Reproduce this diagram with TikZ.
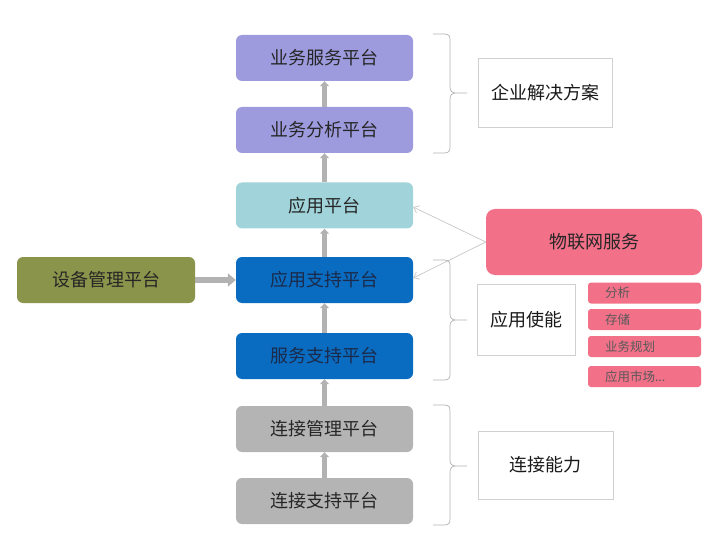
\documentclass[tikz,border=0pt]{standalone}
\usepackage{fontspec}
\setmainfont{Noto Sans CJK SC}
\usetikzlibrary{arrows.meta}
\definecolor{purp}{RGB}{157,155,222}
\definecolor{teal}{RGB}{160,212,218}
\definecolor{bluec}{RGB}{10,108,192}
\definecolor{grayc}{RGB}{180,180,180}
\definecolor{olive}{RGB}{138,148,74}
\definecolor{pinkc}{RGB}{242,113,137}
\tikzset{%
	plat/.style={rounded corners=6pt,minimum width=177pt,minimum height=46pt,inner sep=0pt,font=\fontsize{18}{21}\selectfont,text=black!85},
	side/.style={draw=black!18,fill=white,line width=0.8pt,inner sep=0pt,font=\fontsize{18}{21}\selectfont,text=black!90},
	tag/.style={fill=pinkc,rounded corners=3pt,minimum height=21pt,text width=79pt,inner xsep=17pt,inner ysep=0pt,align=left,font=\fontsize{12.5}{14}\selectfont,text=black!65},
	up/.style={draw=black!30,line width=4.5pt,-{Triangle[width=9pt,length=5pt]}},
	thinarr/.style={draw=black!22,line width=0.7pt,-{Straight Barb[length=5pt,width=8pt]}},
	brace/.style={draw=black!30,line width=0.7pt},
}
\begin{document}
\begin{tikzpicture}[x=1pt,y=-1pt]
	\useasboundingbox (0,0) rectangle (720,540);
	% main column
	\node[plat,fill=purp] (bizsvc) at (324.5,58) {业务服务平台};
	\node[plat,fill=purp] (bizana) at (324.5,130) {业务分析平台};
	\node[plat,fill=teal] (app) at (324.5,205.5) {应用平台};
	\node[plat,fill=bluec,text={rgb,255:red,27;green,42;blue,74}] (appsup) at (324.5,280) {应用支持平台};
	\node[plat,fill=bluec,text={rgb,255:red,27;green,42;blue,74}] (svcsup) at (324.5,356) {服务支持平台};
	\node[plat,fill=grayc] (conmgr) at (324.5,429) {连接管理平台};
	\node[plat,fill=grayc] (consup) at (324.5,501) {连接支持平台};
	\node[plat,fill=olive,minimum width=178pt] (devmgr) at (106,280) {设备管理平台};
	% right side
	\node[side,minimum width=134pt,minimum height=69pt] (corp) at (545,92.5) {企业解决方案};
	\node[plat,fill=pinkc,rounded corners=9pt,minimum width=216pt,minimum height=66pt] (iot) at (594,242) {物联网服务};
	\node[side,minimum width=98pt,minimum height=71pt] (enable) at (526,319.5) {应用使能};
	\node[tag] (t1) at (644.5,293) {分析};
	\node[tag] (t2) at (644.5,319.5) {存储};
	\node[tag] (t3) at (644.5,346.5) {业务规划};
	\node[tag] (t4) at (644.5,376.5) {应用市场...};
	\node[side,minimum width=135pt,minimum height=68pt] (conn) at (545.5,465) {连接能力};
	% arrows
	\draw[up] (bizana) -- (bizsvc);
	\draw[up] (app) -- (bizana);
	\draw[up] (appsup) -- (app);
	\draw[up] (svcsup) -- (appsup);
	\draw[up] (conmgr) -- (svcsup);
	\draw[up] (consup) -- (conmgr);
	\draw[up,line width=6pt,-{Triangle[width=13pt,length=8pt]}] (devmgr) -- (appsup);
	\draw[thinarr] (iot.west) -- ([yshift=-1.5pt]app.east);
	\draw[thinarr] (iot.west) -- ([yshift=2pt]appsup.east);
	% braces
	\foreach \t/\b/\m in {34/153/93,260/380/320,405/525/466}
		\draw[brace] (433,\t) -- (444,\t) .. controls (449,\t) and (450,\t+2) .. (450,\t+6) -- (450,\m-6)
			.. controls (450,\m-2) and (452,\m) .. (456,\m) -- (467,\m)
			(456,\m) .. controls (452,\m) and (450,\m+2) .. (450,\m+6) -- (450,\b-6)
			.. controls (450,\b-2) and (449,\b) .. (444,\b) -- (433,\b);
\end{tikzpicture}
\end{document}
